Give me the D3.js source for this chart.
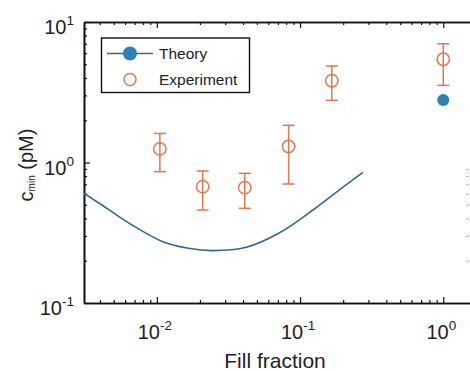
<!DOCTYPE html>
<html><head><meta charset="utf-8">
<script src="https://cdn.jsdelivr.net/npm/d3@7"></script>
<style>body{margin:0;background:#fff}svg{display:block}text{font-family:Arial,"Liberation Sans",Helvetica,sans-serif}</style>
</head><body>
<svg id="c" width="470" height="371"></svg>
<script>
// ---- data ----
const expFill = [0.0105, 0.0209, 0.0411, 0.0832, 0.1667, 1.0];
const expVal  = [1.25, 0.673, 0.662, 1.30, 3.82, 5.43];
const expHigh = [1.61, 0.87, 0.838, 1.84, 4.86, 7.0];
const expLow  = [0.86, 0.459, 0.472, 0.703, 2.77, 3.54];
const theoryFill = [0.0031, 0.00396, 0.00643, 0.011, 0.0166, 0.0245, 0.0421, 0.0719, 0.123, 0.19, 0.275];
const theoryVal  = [0.604, 0.513, 0.369, 0.273, 0.245, 0.236, 0.249, 0.316, 0.459, 0.643, 0.851];
const theoryPointFill = [1.0];
const theoryPointVal = [2.78];
const xMajor = [0.01, 0.1, 1];
const xMajorExp = ["-2", "-1", "0"];
const yMajor = [0.1, 1, 10];
const yMajorExp = ["-1", "0", "1"];
const legendLabels = ["Theory", "Experiment"];

const colTheoryLine = "#34688f", colTheoryDot = "#2f80b5", colExp = "#e27650";

const svg = d3.select("#c");
const x = d3.scaleLog().domain([0.0031, 1.6]).range([84, 472.5]);
const y = d3.scaleLog().domain([0.1, 10]).range([303, 22]);

function minors(dom){
  const out=[];
  for(let e=-4;e<=2;e++){for(let k=2;k<=9;k++){const v=k*Math.pow(10,e); if(v>dom[0]*1.0001&&v<dom[1]*0.9999) out.push(v);}}
  return out;
}
const xMin = minors(x.domain()), yMin = minors(y.domain());

const g = svg.append("g");
// axis ticks (inward)
const axes = [
  [d3.axisBottom(x).tickValues(xMajor).tickSizeInner(-6).tickSizeOuter(0), `translate(0,303)`],
  [d3.axisBottom(x).tickValues(xMin).tickSizeInner(-3).tickSizeOuter(0), `translate(0,303)`],
  [d3.axisTop(x).tickValues(xMajor).tickSizeInner(-6).tickSizeOuter(0), `translate(0,22)`],
  [d3.axisTop(x).tickValues(xMin).tickSizeInner(-3).tickSizeOuter(0), `translate(0,22)`],
  [d3.axisLeft(y).tickValues(yMajor).tickSizeInner(-6).tickSizeOuter(0), `translate(84,0)`],
  [d3.axisLeft(y).tickValues(yMin).tickSizeInner(-3).tickSizeOuter(0), `translate(84,0)`]
];
axes.forEach(([ax,tr])=>{
  const a = g.append("g").attr("transform",tr).call(ax.tickFormat(""));
  a.selectAll("path").attr("stroke","#111").attr("stroke-width",1.6);
  a.selectAll("line").attr("stroke","#111").attr("stroke-width",1.2);
});
// faint right-edge ticks
const ra = g.append("g").attr("transform","translate(471,0)").call(d3.axisRight(y).tickValues(yMin.filter(v=>v<1)).tickSizeInner(-5).tickSizeOuter(0).tickFormat(""));
ra.selectAll("path").remove();
ra.selectAll("line").attr("stroke","#888").attr("stroke-width",1).attr("stroke-dasharray","1.5,1.5");

// tick labels
const xl = g.append("g");
xMajor.forEach((v,i)=>{
  const t = xl.append("text").attr("x",x(v)-2).attr("y",339).attr("text-anchor","middle").attr("font-size",20).attr("fill","#222");
  t.append("tspan").text("10");
  t.append("tspan").attr("dy",-9).attr("font-size",13.5).text(xMajorExp[i]);
});
yMajor.forEach((v,i)=>{
  const t = xl.append("text").attr("x",74).attr("y",y(v)+12).attr("text-anchor","end").attr("font-size",20).attr("fill","#222");
  t.append("tspan").text("10");
  t.append("tspan").attr("dy",-9).attr("font-size",13.5).text(yMajorExp[i]);
});
// axis labels
svg.append("text").attr("x",275).attr("y",368).attr("text-anchor","middle").attr("font-size",21).attr("fill","#222").text("Fill fraction");
const yl = svg.append("text").attr("transform","translate(33,165) rotate(-90)").attr("text-anchor","middle").attr("font-size",20).attr("fill","#222");
yl.append("tspan").text("c");
yl.append("tspan").attr("font-size",10).attr("dy",2).text("min");
yl.append("tspan").attr("dy",-2).text(" (pM)");

// theory line
const line = d3.line().x(d=>x(d[0])).y(d=>y(d[1])).curve(d3.curveCatmullRom);
svg.append("path").datum(d3.zip(theoryFill, theoryVal)).attr("d",line).attr("fill","none").attr("stroke",colTheoryLine).attr("stroke-width",1.6);
svg.selectAll(".tp").data(d3.zip(theoryPointFill,theoryPointVal)).enter().append("circle")
  .attr("cx",d=>x(d[0])).attr("cy",d=>y(d[1])).attr("r",6).attr("fill",colTheoryDot);

// experiment
const ed = expFill.map((f,i)=>({f,v:expVal[i],hi:expHigh[i],lo:expLow[i]}));
const eg = svg.append("g").attr("stroke",colExp).attr("stroke-width",1.5).attr("fill","none");
ed.forEach(d=>{
  const cx=x(d.f);
  eg.append("line").attr("x1",cx).attr("x2",cx).attr("y1",y(d.hi)).attr("y2",y(d.lo));
  eg.append("line").attr("x1",cx-6).attr("x2",cx+6).attr("y1",y(d.hi)).attr("y2",y(d.hi));
  eg.append("line").attr("x1",cx-6).attr("x2",cx+6).attr("y1",y(d.lo)).attr("y2",y(d.lo));
  eg.append("circle").attr("cx",cx).attr("cy",y(d.v)).attr("r",6.2).attr("fill","none");
});

// legend
const lg = svg.append("g");
lg.append("rect").attr("x",101.5).attr("y",38).attr("width",148).attr("height",54.5).attr("fill","#fff").attr("stroke","#111").attr("stroke-width",1.4);
lg.append("line").attr("x1",107).attr("x2",153).attr("y1",53.5).attr("y2",53.5).attr("stroke",colTheoryLine).attr("stroke-width",1.6);
lg.append("circle").attr("cx",130).attr("cy",53.5).attr("r",7).attr("fill",colTheoryDot);
lg.append("circle").attr("cx",130).attr("cy",79.5).attr("r",6).attr("fill","none").attr("stroke",colExp).attr("stroke-width",1.5);
legendLabels.forEach((t,i)=>{
  lg.append("text").attr("x",159).attr("y",59+i*26).attr("font-size",15.5).attr("fill","#222").text(t);
});
</script>
</body></html>
